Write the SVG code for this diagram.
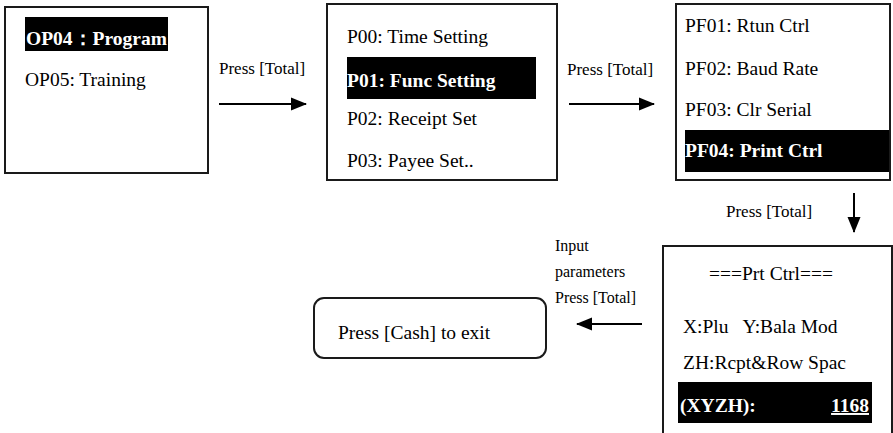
<svg xmlns="http://www.w3.org/2000/svg" width="893" height="433" viewBox="0 0 893 433">
<style>
text{font-family:"Liberation Serif","Times New Roman",serif;fill:#000}
.t{font-size:19.5px}
.b{font-weight:bold;fill:#fff}
.l{font-size:17px}
.s{font-size:16px}
.box{fill:#fff;stroke:#1a1a1a;stroke-width:2}
.hl{fill:#000}
.c{stroke:#000;stroke-width:2;fill:none}
</style>
<defs>
<marker id="ah" markerWidth="16" markerHeight="14" refX="15" refY="6.5" orient="auto" markerUnits="userSpaceOnUse" viewBox="0 0 16 13">
<path d="M0,0 L16,6.5 L0,13 z" fill="#000"/>
</marker>
</defs>
<rect width="893" height="433" fill="#fff"/>
<g id="node-op">
<rect class="box" x="5" y="7" width="203" height="166"/>
<rect class="hl" x="25" y="17" width="143" height="34"/>
<text class="t b" x="26" y="45">OP04：Program</text>
<text class="t" x="25" y="86">OP05: Training</text>
</g>
<g id="node-p">
<rect class="box" x="327" y="4" width="230" height="176"/>
<rect class="hl" x="347" y="57" width="189" height="42"/>
<text class="t" x="347" y="43">P00: Time Setting</text>
<text class="t b" x="347" y="87">P01: Func Setting</text>
<text class="t" x="347" y="125">P02: Receipt Set</text>
<text class="t" x="347" y="167">P03: Payee Set..</text>
</g>
<g id="node-pf">
<rect class="box" x="676" y="4" width="214" height="176"/>
<rect class="hl" x="685" y="130" width="204" height="42"/>
<text class="t" x="685" y="32">PF01: Rtun Ctrl</text>
<text class="t" x="685" y="75">PF02: Baud Rate</text>
<text class="t" x="685" y="116">PF03: Clr Serial</text>
<text class="t b" x="685" y="157">PF04: Print Ctrl</text>
</g>
<g id="node-prt">
<rect class="box" x="663" y="246" width="229" height="200"/>
<text class="t" x="771" y="280" text-anchor="middle">===Prt Ctrl===</text>
<text class="t" x="683" y="333" xml:space="preserve">X:Plu   Y:Bala Mod</text>
<text class="t" x="683" y="369">ZH:Rcpt&amp;Row Spac</text>
<rect class="hl" x="678" y="382" width="194" height="41"/>
<text class="t b" x="680" y="412">(XYZH):</text>
<text class="t b" x="869" y="412" text-anchor="end" text-decoration="underline">1168</text>
</g>
<g id="node-exit">
<rect class="box" x="314" y="298" width="232" height="60" rx="10"/>
<text class="t" x="338" y="339">Press [Cash] to exit</text>
</g>
<g id="connectors">
<line class="c" x1="219" y1="104" x2="306" y2="104" marker-end="url(#ah)"/>
<text class="l" x="219" y="74">Press [Total]</text>
<line class="c" x1="569" y1="104" x2="654" y2="104" marker-end="url(#ah)"/>
<text class="l" x="567" y="75">Press [Total]</text>
<line class="c" x1="854" y1="193" x2="854" y2="232" marker-end="url(#ah)"/>
<text class="l" x="726" y="217">Press [Total]</text>
<line class="c" x1="642" y1="324" x2="577" y2="324" marker-end="url(#ah)"/>
<text class="s" x="555" y="251">Input</text>
<text class="s" x="555" y="277">parameters</text>
<text class="s" x="555" y="303">Press [Total]</text>
</g>
</svg>
